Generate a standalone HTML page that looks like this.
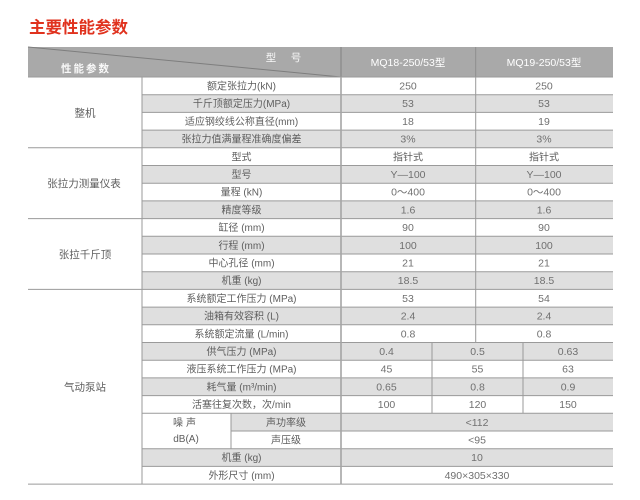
<!DOCTYPE html>
<html><head><meta charset="utf-8"><style>
html,body{margin:0;padding:0;background:#fff;}
svg{display:block;}
text{font-family:"Liberation Sans","Noto Sans CJK SC",sans-serif;}
.t{font-size:10px;fill:#5e5e5e;text-anchor:middle;}
.n{font-size:10.5px;fill:#707070;text-anchor:middle;}
.g{font-size:10.5px;fill:#5e5e5e;text-anchor:middle;}
.h{font-size:10.5px;fill:#fff;text-anchor:middle;}
</style></head><body>
<svg width="640" height="500" viewBox="0 0 640 500" xmlns="http://www.w3.org/2000/svg">
<rect width="640" height="500" fill="#fff"/>
<text x="29" y="33" style="font-size:16.5px;font-weight:bold;fill:#e0321e;">主要性能参数</text>

<!-- header -->
<rect x="28" y="47" width="585" height="30" fill="#a9a9a9"/>
<line x1="28" y1="47" x2="341" y2="77" stroke="#7e7e7e" stroke-width="1"/>
<line x1="341" y1="47" x2="341" y2="77" stroke="#8e8e8e" stroke-width="1.5"/>
<line x1="475.7" y1="47" x2="475.7" y2="77" stroke="#8e8e8e" stroke-width="1"/>
<text x="86" y="72" class="h" style="font-weight:bold;letter-spacing:2px;font-size:10.5px;fill-opacity:0.92">性能参数</text>
<text x="271" y="61" class="h" style="fill-opacity:0.92">型</text>
<text x="296" y="61" class="h" style="fill-opacity:0.92">号</text>
<text x="408" y="66" class="h">MQ18-250/53型</text>
<text x="544" y="66" class="h">MQ19-250/53型</text>

<!-- zebra rows (gray) -->
<g fill="#dfdfdf">
<rect x="142" y="94.7" width="471" height="17.7"/>
<rect x="142" y="130.1" width="471" height="17.7"/>
<rect x="142" y="165.5" width="471" height="17.7"/>
<rect x="142" y="200.9" width="471" height="17.7"/>
<rect x="142" y="236.3" width="471" height="17.7"/>
<rect x="142" y="271.7" width="471" height="17.7"/>
<rect x="142" y="307.1" width="471" height="17.7"/>
<rect x="142" y="342.5" width="471" height="17.7"/>
<rect x="142" y="377.9" width="471" height="17.7"/>
<rect x="231" y="413.3" width="382" height="17.7"/>
<rect x="142" y="448.7" width="471" height="17.7"/>
</g>

<!-- horizontal lines -->
<g stroke="#9a9a9a" stroke-width="1">
<line x1="28" y1="77" x2="613" y2="77"/>
<line x1="142" y1="94.7" x2="613" y2="94.7"/>
<line x1="142" y1="112.4" x2="613" y2="112.4"/>
<line x1="142" y1="130.1" x2="613" y2="130.1"/>
<line x1="28" y1="147.8" x2="613" y2="147.8"/>
<line x1="142" y1="165.5" x2="613" y2="165.5"/>
<line x1="142" y1="183.2" x2="613" y2="183.2"/>
<line x1="142" y1="200.9" x2="613" y2="200.9"/>
<line x1="28" y1="218.6" x2="613" y2="218.6"/>
<line x1="142" y1="236.3" x2="613" y2="236.3"/>
<line x1="142" y1="254" x2="613" y2="254"/>
<line x1="142" y1="271.7" x2="613" y2="271.7"/>
<line x1="28" y1="289.4" x2="613" y2="289.4"/>
<line x1="142" y1="307.1" x2="613" y2="307.1"/>
<line x1="142" y1="324.8" x2="613" y2="324.8"/>
<line x1="142" y1="342.5" x2="613" y2="342.5"/>
<line x1="142" y1="360.2" x2="613" y2="360.2"/>
<line x1="142" y1="377.9" x2="613" y2="377.9"/>
<line x1="142" y1="395.6" x2="613" y2="395.6"/>
<line x1="142" y1="413.3" x2="613" y2="413.3"/>
<line x1="231" y1="431" x2="613" y2="431"/>
<line x1="142" y1="448.7" x2="613" y2="448.7"/>
<line x1="142" y1="466.4" x2="613" y2="466.4"/>
<line x1="28" y1="484.1" x2="613" y2="484.1"/>
</g>
<!-- vertical lines -->
<g stroke="#9a9a9a" stroke-width="1">
<line x1="142" y1="77" x2="142" y2="484.1"/>
<line x1="475.7" y1="77" x2="475.7" y2="342.5"/>
<line x1="432" y1="342.5" x2="432" y2="413.3"/>
<line x1="523" y1="342.5" x2="523" y2="413.3"/>
<line x1="231" y1="413.3" x2="231" y2="448.7"/>
</g>
<line x1="341" y1="77" x2="341" y2="484.1" stroke="#a5a5a5" stroke-width="1.6"/>

<!-- group labels -->
<text x="85" y="116.3" class="g">整机</text>
<text x="84" y="187" class="g">张拉力测量仪表</text>
<text x="85" y="257.8" class="g">张拉千斤顶</text>
<text x="85" y="390.5" class="g">气动泵站</text>

<!-- param labels -->
<g>
<text x="241.5" y="89.5" class="t">额定张拉力(kN)</text>
<text x="241.5" y="107.2" class="t">千斤顶额定压力(MPa)</text>
<text x="241.5" y="124.9" class="t">适应钢绞线公称直径(mm)</text>
<text x="241.5" y="142.6" class="t">张拉力值满量程准确度偏差</text>
<text x="241.5" y="160.3" class="t">型式</text>
<text x="241.5" y="178" class="t">型号</text>
<text x="241.5" y="195.7" class="t">量程 (kN)</text>
<text x="241.5" y="213.4" class="t">精度等级</text>
<text x="241.5" y="231.1" class="t">缸径 (mm)</text>
<text x="241.5" y="248.8" class="t">行程 (mm)</text>
<text x="241.5" y="266.5" class="t">中心孔径 (mm)</text>
<text x="241.5" y="284.2" class="t">机重 (kg)</text>
<text x="241.5" y="301.9" class="t">系统额定工作压力 (MPa)</text>
<text x="241.5" y="319.6" class="t">油箱有效容积 (L)</text>
<text x="241.5" y="337.3" class="t">系统额定流量 (L/min)</text>
<text x="241.5" y="355" class="t">供气压力 (MPa)</text>
<text x="241.5" y="372.7" class="t">液压系统工作压力 (MPa)</text>
<text x="241.5" y="390.4" class="t">耗气量 (m³/min)</text>
<text x="241.5" y="408.1" class="t">活塞往复次数，次/min</text>
<text x="186" y="426" class="t" style="letter-spacing:3px">噪声</text>
<text x="186" y="442" class="t">dB(A)</text>
<text x="286" y="425.8" class="t">声功率级</text>
<text x="286" y="443.5" class="t">声压级</text>
<text x="241.5" y="461.2" class="t">机重 (kg)</text>
<text x="241.5" y="478.9" class="t">外形尺寸 (mm)</text>
</g>

<!-- values -->
<g>
<text x="408" y="89.5" class="n">250</text><text x="544" y="89.5" class="n">250</text>
<text x="408" y="107.2" class="n">53</text><text x="544" y="107.2" class="n">53</text>
<text x="408" y="124.9" class="n">18</text><text x="544" y="124.9" class="n">19</text>
<text x="408" y="142.6" class="n">3%</text><text x="544" y="142.6" class="n">3%</text>
<text x="408" y="160.3" class="t">指针式</text><text x="544" y="160.3" class="t">指针式</text>
<text x="408" y="178" class="n">Y—100</text><text x="544" y="178" class="n">Y—100</text>
<text x="408" y="195.7" class="n">0～400</text><text x="544" y="195.7" class="n">0～400</text>
<text x="408" y="213.4" class="n">1.6</text><text x="544" y="213.4" class="n">1.6</text>
<text x="408" y="231.1" class="n">90</text><text x="544" y="231.1" class="n">90</text>
<text x="408" y="248.8" class="n">100</text><text x="544" y="248.8" class="n">100</text>
<text x="408" y="266.5" class="n">21</text><text x="544" y="266.5" class="n">21</text>
<text x="408" y="284.2" class="n">18.5</text><text x="544" y="284.2" class="n">18.5</text>
<text x="408" y="301.9" class="n">53</text><text x="544" y="301.9" class="n">54</text>
<text x="408" y="319.6" class="n">2.4</text><text x="544" y="319.6" class="n">2.4</text>
<text x="408" y="337.3" class="n">0.8</text><text x="544" y="337.3" class="n">0.8</text>
<text x="386.5" y="355" class="n">0.4</text><text x="477.5" y="355" class="n">0.5</text><text x="568" y="355" class="n">0.63</text>
<text x="386.5" y="372.7" class="n">45</text><text x="477.5" y="372.7" class="n">55</text><text x="568" y="372.7" class="n">63</text>
<text x="386.5" y="390.4" class="n">0.65</text><text x="477.5" y="390.4" class="n">0.8</text><text x="568" y="390.4" class="n">0.9</text>
<text x="386.5" y="408.1" class="n">100</text><text x="477.5" y="408.1" class="n">120</text><text x="568" y="408.1" class="n">150</text>
<text x="477" y="425.8" class="n">&lt;112</text>
<text x="477" y="443.5" class="n">&lt;95</text>
<text x="477" y="461.2" class="n">10</text>
<text x="477" y="478.9" class="n">490×305×330</text>
</g>
</svg>
</body></html>
